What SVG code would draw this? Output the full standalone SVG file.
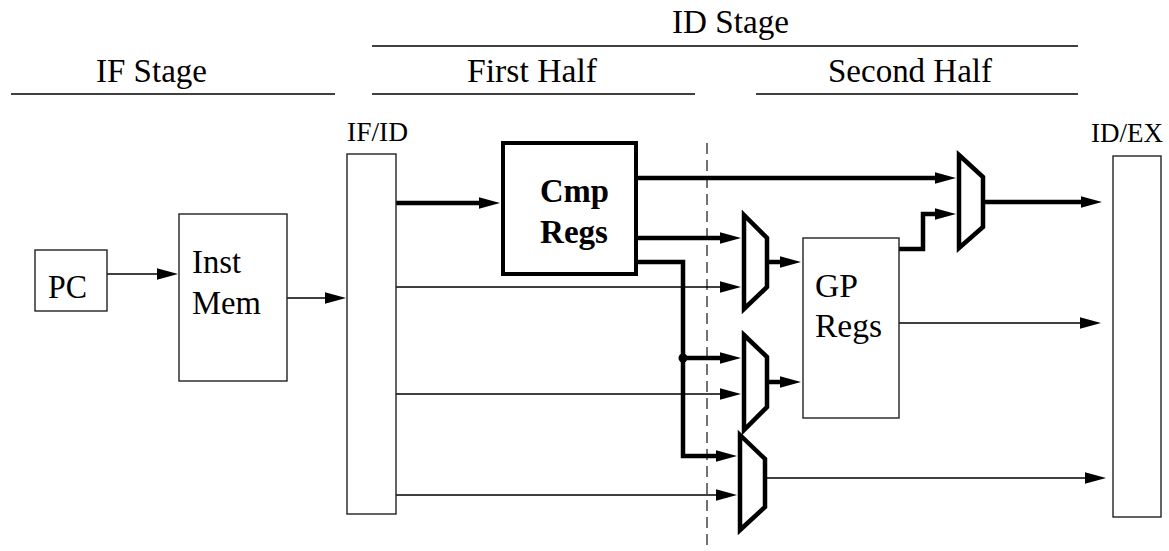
<svg xmlns="http://www.w3.org/2000/svg" width="1169" height="551" viewBox="0 0 1169 551">
  <style>
    .hdr, .lbl, .reg { font-family: "Liberation Serif", "DejaVu Serif", "Times New Roman", serif; fill: #000; }
    .hdr { font-size: 33px; }
    .lbl { font-size: 33px; }
    .reg { font-size: 27px; }
    .bold { font-weight: bold; }
    .rule { stroke: #000; stroke-width: 1.5; fill: none; }
    .box { fill: #fff; stroke: #222; stroke-width: 1.4; }
    .thickbox { fill: #fff; stroke: #000; stroke-width: 4; }
    .mux { fill: #fff; stroke: #000; stroke-width: 4.5; stroke-linejoin: miter; }
    .thin { fill: none; stroke: #000; stroke-width: 1.4; marker-end: url(#arrow); }
    .thick { fill: none; stroke: #000; stroke-width: 4.5; stroke-linejoin: miter; marker-end: url(#arrow); }
    .divider { stroke: #444; stroke-width: 1.5; stroke-dasharray: 11 6; fill: none; }
  </style>
  <defs>
    <marker id="arrow" markerUnits="userSpaceOnUse" markerWidth="22" markerHeight="12" refX="1" refY="5.75" orient="auto">
      <path d="M0,0 L21,5.75 L0,11.5 z" fill="#000"/>
    </marker>
  </defs>

  <rect width="1169" height="551" fill="#fff"/>

  <!-- stage headings -->
  <g id="headings">
    <text class="hdr" x="672" y="33" textLength="117" lengthAdjust="spacingAndGlyphs">ID Stage</text>
    <line class="rule" x1="372" y1="46" x2="1078" y2="46"/>
    <text class="hdr" x="96" y="82" textLength="111" lengthAdjust="spacingAndGlyphs">IF Stage</text>
    <line class="rule" x1="11" y1="94" x2="335" y2="94"/>
    <text class="hdr" x="467" y="82" textLength="130" lengthAdjust="spacingAndGlyphs">First Half</text>
    <line class="rule" x1="372" y1="94" x2="695" y2="94"/>
    <text class="hdr" x="828" y="82" textLength="164" lengthAdjust="spacingAndGlyphs">Second Half</text>
    <line class="rule" x1="756" y1="94" x2="1078" y2="94"/>
  </g>

  <!-- half-cycle boundary -->
  <line class="divider" x1="707" y1="143" x2="707" y2="551"/>

  <!-- connectors -->
  <g id="connectors">
    <!-- thin wires -->
    <path class="thin" d="M107,274 H158"/>
    <path class="thin" d="M287,298 H326"/>
    <path class="thin" d="M396,287 H721"/>
    <path class="thin" d="M396,394 H721"/>
    <path class="thin" d="M394,495 H717"/>
    <path class="thin" d="M899,323 H1081"/>
    <path class="thin" d="M765,478 H1086"/>
    <!-- thick wires -->
    <path class="thick" d="M396,203 H480"/>
    <path class="thick" d="M636,178 H936"/>
    <path class="thick" d="M636,238 H721"/>
    <path class="thick" d="M636,262 H683 V456 H717"/>
    <path class="thick" d="M683,358 H721"/>
    <path class="thick" d="M767,262 H781"/>
    <path class="thick" d="M767,382 H781"/>
    <path class="thick" d="M899,249 H923 V214 H936"/>
    <path class="thick" d="M983,202 H1082"/>
    <circle cx="683" cy="358" r="4.5" fill="#000"/>
  </g>

  <!-- pipeline registers -->
  <g id="if-id">
    <text class="reg" x="347" y="141" textLength="61" lengthAdjust="spacingAndGlyphs">IF/ID</text>
    <rect class="box" x="347" y="154" width="49" height="360"/>
  </g>
  <g id="id-ex">
    <text class="reg" x="1091" y="142" textLength="72" lengthAdjust="spacingAndGlyphs">ID/EX</text>
    <rect class="box" x="1113" y="156" width="48" height="361"/>
  </g>

  <!-- IF stage blocks -->
  <g id="pc">
    <rect class="box" x="35" y="250" width="72" height="61"/>
    <text class="lbl" x="48" y="298" textLength="39" lengthAdjust="spacingAndGlyphs">PC</text>
  </g>
  <g id="inst-mem">
    <rect class="box" x="179" y="214" width="108" height="167"/>
    <text class="lbl" x="192" y="273" textLength="49" lengthAdjust="spacingAndGlyphs">Inst</text>
    <text class="lbl" x="192" y="314" textLength="69" lengthAdjust="spacingAndGlyphs">Mem</text>
  </g>

  <!-- ID stage blocks -->
  <g id="cmp-regs">
    <rect class="thickbox" x="503" y="143" width="133" height="131"/>
    <text class="lbl bold" x="540" y="202" textLength="69" lengthAdjust="spacingAndGlyphs">Cmp</text>
    <text class="lbl bold" x="540" y="243" textLength="68" lengthAdjust="spacingAndGlyphs">Regs</text>
  </g>
  <g id="gp-regs">
    <rect class="box" x="803" y="238" width="96" height="180"/>
    <text class="lbl" x="815" y="297" textLength="43" lengthAdjust="spacingAndGlyphs">GP</text>
    <text class="lbl" x="815" y="337" textLength="67" lengthAdjust="spacingAndGlyphs">Regs</text>
  </g>

  <!-- multiplexers -->
  <g id="mux-a">
    <polygon class="mux" points="744,215 767,238 767,287 744,309"/>
  </g>
  <g id="mux-b">
    <polygon class="mux" points="744,335 767,357 767,407 744,430"/>
  </g>
  <g id="mux-c">
    <polygon class="mux" points="740,435 765,459 765,507 740,530"/>
  </g>
  <g id="mux-d">
    <polygon class="mux" points="959,155 983,177 983,227 959,248"/>
  </g>
</svg>
